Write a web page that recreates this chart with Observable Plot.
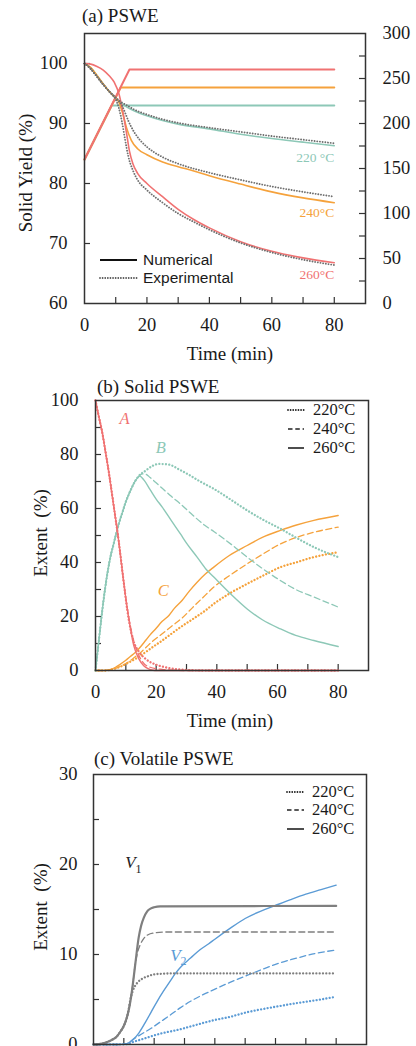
<!DOCTYPE html>
<html><head><meta charset="utf-8">
<script src="https://cdn.jsdelivr.net/npm/d3@7"></script>
<script src="https://cdn.jsdelivr.net/npm/@observablehq/plot@0.6"></script>
<style>
html,body{margin:0;padding:0;background:#fff;overflow:hidden;}
#root{position:relative;width:416px;height:1046px;overflow:hidden;font-family:"Liberation Serif","Times New Roman",serif;color:#1a1a1a;}
.abs{position:absolute;white-space:nowrap;line-height:1;}
.panel{position:absolute;left:0;}
.panel text{font-family:"Liberation Serif","Times New Roman",serif;}
</style></head><body><div id="root"></div><script>
// ---------- Panel (a) data: solid yield (%) vs time (min) ----------
const yieldNum220 = [[0,100],[2,99.3],[4,98],[6,96.6],[8,95.3],[10,94.2],[12,93.3],[14,92.6],[16,92.1],[20,91.3],[25,90.5],[30,89.9],[40,89.1],[50,88.2],[60,87.5],[70,86.9],[80,86.3]];
const yieldExp220 = [[0,100],[2,99.1],[4,97.8],[6,96.5],[8,95.3],[10,94.3],[12,93.5],[14,92.9],[16,92.3],[20,91.5],[25,90.7],[30,90.1],[40,89.3],[50,88.6],[60,87.9],[70,87.3],[80,86.7]];
const yieldNum240 = [[0,100],[2,99.3],[4,98],[6,96.6],[8,95.3],[10,94.2],[11,93.6],[11.8,92.4],[12.6,91],[13.4,89.4],[15,87.2],[17,85.8],[20,84.8],[25,83.6],[30,82.8],[35,82.1],[40,81.3],[50,79.9],[60,78.6],[70,77.6],[80,76.8]];
const yieldExp240 = [[0,100],[2,99.1],[4,97.8],[6,96.5],[8,95.3],[10,94.3],[11,93.7],[12,93],[13,91.8],[14,90.5],[16,88.5],[18,87.1],[20,86.1],[25,84.4],[30,83.3],[40,81.8],[50,80.6],[60,79.5],[70,78.6],[80,77.8]];
const yieldNum260 = [[0,100],[2,99.9],[4,99.5],[6,98.9],[8,97.9],[9.6,96.8],[11,95],[12.3,91.9],[13.4,88.6],[14.4,85.4],[15.5,83.3],[17,81.7],[20,80],[25,77.8],[30,75.7],[35,74],[40,72.6],[50,70.3],[60,68.7],[70,67.6],[80,66.8]];
const yieldExp260 = [[0,100],[2,99.1],[4,97.8],[6,96.5],[8,95.3],[10,94],[11,92.6],[12,90.3],[13,87.3],[14,84.6],[15.5,82.2],[17,80.6],[20,78.9],[25,76.8],[30,75],[35,73.6],[40,72.3],[50,70.1],[60,68.5],[70,67.3],[80,66.4]];
// temperature (°C, right axis)
const temp220 = [[0,160],[8.7,220],[80,220]];
const temp240 = [[0,160],[11.6,240],[80,240]];
const temp260 = [[0,160],[14.4,260],[80,260]];
const tempLabelsA = [{t:80,v:84.3,label:"220 °C",k:"220"},{t:80,v:75.1,label:"240°C",k:"240"},{t:80,v:64.8,label:"260°C",k:"260"}];
const xLabelTicks = [0,20,40,60,80];
const xMinorTicks = [10,20,30,40,50,60,70,80];
const yTicksA = [60,70,80,90,100];
const yMinorA = [70,80,90,100];
const rightTicksA = [0,50,100,150,200,250,300];
const rightMinorA = [25,50,75,100,125,150,175,200,225,250,275];

// ---------- Panel (b) data: solid extents (%) ----------
const A260 = [[0,100],[1,94.5],[2.2,88.3],[3.3,81],[4.4,73.4],[6,61],[7.7,47.5],[9.3,32.7],[11,19.1],[12.6,9.3],[14.3,4.3],[15.9,1.8],[17.5,0.6],[19,0.1],[20,0],[80,0]];
const A240 = [[0,100],[1,94.5],[2.2,88.3],[3.3,81],[4.4,73.4],[6,61],[7.7,47.5],[9.3,32.7],[11,19.5],[12.6,11],[13.5,7.8],[15.4,3.4],[18,1.2],[22,0.4],[26,0.1],[30,0],[80,0]];
const A220 = [[0,100],[1,94.5],[2.2,88.3],[3.3,81],[4.4,73.4],[6,61],[7.7,47.5],[9.3,32.7],[10.4,23],[11.5,15.6],[12.6,10.7],[14.3,7],[16.5,4.3],[19.2,2.5],[23,1.2],[27.5,0.4],[32,0.1],[36,0],[80,0]];
const B260 = [[0,0],[1,10],[2,20],[3,29],[4,36.5],[5,42.5],[6,47],[7,51.5],[8,55.5],[9,59],[10,62.5],[11,65.3],[12,67.8],[13,70],[14,71.5],[14.6,72],[16,70.5],[18,67],[20,63.5],[22,60.5],[25,55.5],[28,50.6],[30,47.2],[33.5,42],[36.3,37.7],[39,34.6],[44.5,28.4],[50,22.8],[55,18.8],[61,15.4],[66,13],[72,11.1],[80,8.9]];
const B240 = [[0,0],[1,10],[2,20],[3,29],[4,36.5],[5,42.5],[6,47],[7,51.5],[8,55.5],[9,59],[10,62.5],[11,65.3],[12,67.8],[13,70],[14,71.6],[15.4,72.8],[16.5,72.7],[18,71.5],[19.8,69.7],[22,67.5],[25,64.5],[28,61.7],[32,57.6],[36,53.8],[39,51.5],[45,46.5],[50,42],[55,37.8],[61,33.3],[66,30],[72,27.2],[80,23.5]];
const B220 = [[0,0],[1,10],[2,20],[3,29],[4,36.5],[5,42.5],[6,47],[7,51.5],[8,55.5],[9,59],[10,62.5],[11,65.3],[12,67.8],[13,70],[14,71.7],[16.5,74],[18.5,75.6],[20.9,76.5],[24,76.3],[28,74.2],[30,73],[35,69.7],[39,67.3],[45,63],[50,59.3],[55,56],[61,52.5],[66,49.3],[72,45.7],[80,42]];
const C260 = [[0,0],[3,0],[5,0.4],[6.6,1.2],[8,2.2],[9.9,3.7],[11.5,5.2],[13.2,6.8],[15,9],[16.5,11.1],[18,13.2],[19.8,15.4],[22,18.2],[24.2,20.4],[26,23],[28.6,26],[31,29.5],[33.5,32.7],[36.3,35.8],[39,38.3],[44,42.5],[50,46.3],[55,49.3],[61,51.9],[66,53.8],[72,55.6],[80,57.4]];
const C240 = [[0,0],[3,0],[5,0.3],[7,1],[9,2],[11,3.3],[13,5],[14.5,6.3],[16.5,8.4],[19,11],[22,13.6],[25,16.3],[28.6,19.5],[32,23.3],[36.3,28],[39,30.9],[44,35],[50,39.5],[55,43],[61,46.9],[66,49.2],[72,51.2],[80,53.1]];
const C220 = [[0,0],[3,0],[5,0.3],[7,0.9],[9,1.8],[11,3],[13,4.2],[14.5,5.2],[16.5,6.8],[19,8.8],[22,11.1],[25,13.6],[28.6,16.5],[32,19],[36.3,22.3],[39,24.7],[44,28.4],[50,32.1],[55,35],[61,38.3],[66,40],[72,42],[80,43.8]];
const labelsB = [{t:9.6,v:93.3,label:"A",k:"A"},{t:21.5,v:82.4,label:"B",k:"B"},{t:22.3,v:29.6,label:"C",k:"C"}];
const yTicksB = [0,20,40,60,80,100];
const yMinorB = [10,20,30,40,50,60,70,80,90];

// ---------- Panel (c) data: volatile extents (%) ----------
const V1_260 = [[0,0],[2,0.05],[4.4,0.26],[6,0.5],[7.7,0.9],[9,1.5],[9.9,2],[11,3],[11.6,3.8],[12.7,6],[13.8,9],[14.9,11.9],[15.7,13.2],[16.6,14.1],[17.7,14.8],[18.8,15.1],[20,15.25],[22,15.35],[80,15.4]];
const V1_240 = [[0,0],[2,0.05],[4.4,0.26],[6,0.5],[7.7,0.9],[9,1.5],[9.9,2],[11,3],[11.6,3.8],[12.7,6],[13.8,9],[14.5,10.2],[15.3,11],[16.6,11.8],[18,12.2],[20,12.4],[24,12.5],[80,12.5]];
const V1_220 = [[0,0],[2,0.05],[4.4,0.26],[6,0.5],[7.7,0.9],[9,1.5],[9.9,2],[11,3],[11.6,3.9],[12.1,4.9],[13,6],[14.3,6.8],[16,7.3],[17.7,7.55],[20,7.8],[22,7.85],[26,7.9],[80,7.9]];
const V2_260 = [[0,0],[8,0],[11,0.1],[13.2,0.6],[15,1.3],[17,2.4],[19,3.6],[21,4.8],[23,5.9],[25,6.9],[27,7.9],[29,8.7],[32,9.6],[35,10.5],[38,11.2],[40,11.7],[45,12.9],[50,14],[55,14.8],[59.6,15.4],[65,16.1],[70,16.7],[75,17.2],[80,17.7]];
const V2_240 = [[0,0],[8,0],[11,0.1],[13.2,0.6],[16,1.2],[19,1.8],[22,2.5],[25,3.2],[28.7,4.1],[32,4.8],[35.3,5.4],[39.7,6.1],[45,6.9],[50.8,7.7],[56,8.4],[61.8,9.1],[67,9.6],[72.9,10.1],[80,10.5]];
const V2_220 = [[0,0],[8,0],[11,0.05],[13.2,0.3],[16.6,0.65],[22,1.2],[28.7,1.7],[33,2.1],[39.7,2.7],[45.3,3.1],[50.8,3.6],[56,3.95],[61.8,4.3],[67,4.6],[72.9,4.9],[80,5.3]];
const labelsC = [{t:12.2,v:20.2,name:"V",sub:"1",k:"V1"},{t:27,v:9.9,name:"V",sub:"2",k:"V2"}];
const yTicksC = [0,10,20,30];
const yMinorC = [5,10,15,20,25];
const legendTemps = ["220°C","240°C","260°C"];
const legendA = ["Numerical","Experimental"];

// ---------- styles ----------
const RED="#F07272", ORANGE="#F5A23C", TEAL="#8DC8B7", BLUE="#5B9BD5", GRAY="#7F7F7F", DOT="#707070", INK="#333333";
const SERIF = '"Liberation Serif", "Times New Roman", serif';
const DOTTED = {strokeDasharray:"0.01,3.3", strokeLinecap:"round", strokeWidth:2.3};
const DASHED = {strokeDasharray:"6,3.5", strokeWidth:1.3};
const SOLID = {strokeWidth:1.4};
const DOTA = {strokeDasharray:"0.01,2.7", strokeLinecap:"round", strokeWidth:1.9};
const root = document.getElementById("root");

function line(pairs, opts, yf) {
  return Plot.line(pairs, {x: d => d[0], y: yf ? d => yf(d[1]) : d => d[1], curve: "monotone-x", ...opts});
}
function baseAxes(W, H, mL, mR, mT, mB, yTicks, yMinor, padL, xLabels = true) {
  const iw = W - mL - mR, ih = H - mT - mB;
  const m = [
    Plot.axisY({ticks: yTicks, tickSize: 0, tickPadding: padL, label: null, tickFormat: d => d}),
    Plot.ruleX(xMinorTicks, {x: d => d, insetTop: ih - 6, stroke: INK, strokeWidth: 1.2}),
    Plot.ruleY(yMinor, {y: d => d, insetRight: iw - 6, stroke: INK, strokeWidth: 1.2})
  ];
  if (xLabels) m.push(Plot.axisX({ticks: xLabelTicks, tickSize: 0, tickPadding: 14, label: null, tickFormat: d => d}));
  else m.push(Plot.axisX({ticks: [], label: null}));
  return m;
}
function addDiv(html, css) {
  const d = document.createElement("div");
  d.className = "abs";
  d.innerHTML = html;
  Object.assign(d.style, css);
  root.appendChild(d);
  return d;
}
function place(el, top) {
  el.classList.add("panel");
  el.style.top = top + "px";
  root.appendChild(el);
}
function legendSample(kind, x1, x2, y, color, w) {
  let attrs;
  if (kind === "dotted") attrs = `stroke-width="1.8" stroke-dasharray="0.01,2.6" stroke-linecap="round"`;
  else if (kind === "dashed") attrs = `stroke-width="1.4" stroke-dasharray="4.5,2.8"`;
  else attrs = `stroke-width="${w || 1.6}"`;
  addDiv(`<svg width="${x2 - x1}" height="6" style="display:block"><line x1="1" y1="3" x2="${x2 - x1 - 1}" y2="3" stroke="${color}" ${attrs}/></svg>`,
    {left: x1 + "px", top: (y - 3) + "px"});
}

// ================= Panel (a) =================
const yMap = T => 60 + T * 45 / 300;
const WA = 416, HA = 365, mLA = 84, mRA = 51, mTA = 33, mBA = 62;
const colorsT = {"220": TEAL, "240": ORANGE, "260": RED};
const plotA = Plot.plot({
  width: WA, height: HA, marginLeft: mLA, marginRight: mRA, marginTop: mTA, marginBottom: mBA,
  style: {fontFamily: SERIF, fontSize: "18.5px", color: "#1a1a1a", background: "transparent"},
  x: {domain: [0, 90]},
  y: {domain: [60, 105]},
  marks: [
    ...baseAxes(WA, HA, mLA, mRA, mTA, mBA, yTicksA, yMinorA, 17),
    Plot.axisY({anchor: "right", ticks: rightTicksA.map(yMap), tickFormat: d => Math.round((d - 60) * 300 / 45), tickSize: 0, tickPadding: 17, textAnchor: "start", label: null}),
    Plot.ruleY(rightMinorA.map(yMap), {y: d => d, insetLeft: (WA - mLA - mRA) - 6, stroke: INK, strokeWidth: 1.2}),
    Plot.line(temp220, {x: d => d[0], y: d => yMap(d[1]), stroke: TEAL, strokeWidth: 2}),
    Plot.line(temp240, {x: d => d[0], y: d => yMap(d[1]), stroke: ORANGE, strokeWidth: 2}),
    Plot.line(temp260, {x: d => d[0], y: d => yMap(d[1]), stroke: RED, strokeWidth: 2}),
    line(yieldNum220, {stroke: TEAL, strokeWidth: 1.6}),
    line(yieldNum240, {stroke: ORANGE, strokeWidth: 1.6}),
    line(yieldNum260, {stroke: RED, strokeWidth: 1.6}),
    line(yieldExp220, {stroke: DOT, ...DOTA}),
    line(yieldExp240, {stroke: DOT, ...DOTA}),
    line(yieldExp260, {stroke: DOT, ...DOTA}),
    Plot.text(tempLabelsA, {x: "t", y: "v", text: "label", fill: d => colorsT[d.k], textAnchor: "end", fontSize: 13.5}),
    Plot.frame({stroke: INK, strokeWidth: 1.5})
  ]
});
place(plotA, 0);
addDiv("(a) PSWE", {left: "82px", top: "6px", fontSize: "19px"});
addDiv("Solid Yield (%)", {left: "25px", top: "173px", fontSize: "19px", transform: "translate(-50%,-50%) rotate(-90deg)"});
addDiv("Time (min)", {left: "230px", top: "353px", fontSize: "19px", transform: "translate(-50%,-50%)"});
legendSample("solid", 99, 138, 260, "#111", 2);
legendSample("dotted", 99, 138, 278, "#555");
addDiv(legendA[0], {left: "143px", top: "260px", fontSize: "15.5px", fontFamily: '"Liberation Sans", Arial, sans-serif', transform: "translateY(-50%)"});
addDiv(legendA[1], {left: "143px", top: "278px", fontSize: "15.5px", fontFamily: '"Liberation Sans", Arial, sans-serif', transform: "translateY(-50%)"});

// ================= Panel (b) =================
const WB = 416, HB = 370, mLB = 95, mRB = 48, mTB = 30, mBB = 70;
const colorsB = {A: RED, B: TEAL, C: ORANGE};
const plotB = Plot.plot({
  width: WB, height: HB, marginLeft: mLB, marginRight: mRB, marginTop: mTB, marginBottom: mBB,
  style: {fontFamily: SERIF, fontSize: "18.5px", color: "#1a1a1a", background: "transparent"},
  x: {domain: [0, 90]},
  y: {domain: [0, 100]},
  marks: [
    ...baseAxes(WB, HB, mLB, mRB, mTB, mBB, yTicksB, yMinorB, 17),
    line(C220, {stroke: ORANGE, ...DOTTED}),
    line(C240, {stroke: ORANGE, ...DASHED}),
    line(C260, {stroke: ORANGE, ...SOLID}),
    line(B220, {stroke: TEAL, ...DOTTED}),
    line(B240, {stroke: TEAL, ...DASHED}),
    line(B260, {stroke: TEAL, ...SOLID}),
    line(A220, {stroke: RED, ...DOTTED}),
    line(A240, {stroke: RED, ...DASHED}),
    line(A260, {stroke: RED, ...SOLID}),
    Plot.text(labelsB, {x: "t", y: "v", text: "label", fill: d => colorsB[d.k], fontStyle: "italic", fontSize: 16.5}),
    Plot.frame({stroke: INK, strokeWidth: 1.5})
  ]
});
place(plotB, 370);
addDiv("(b) Solid PSWE", {left: "97px", top: "377px", fontSize: "19px"});
addDiv("Extent&nbsp;&nbsp;(%)", {left: "40px", top: "533px", fontSize: "19px", transform: "translate(-50%,-50%) rotate(-90deg)"});
addDiv("Time (min)", {left: "230px", top: "720px", fontSize: "19px", transform: "translate(-50%,-50%)"});
["dotted", "dashed", "solid"].forEach((k, i) => {
  const y = [409.5, 429, 448.3][i];
  legendSample(k, 287, 305, y, "#222");
  addDiv(legendTemps[i], {left: "313px", top: y + "px", fontSize: "16.5px", transform: "translateY(-50%)"});
});

// ================= Panel (c) =================
const WC = 416, HC = 306, mLC = 93, mRC = 50, mTC = 34, mBC = 2;
const colorsC = {V1: "#222", V2: BLUE};
const plotC = Plot.plot({
  width: WC, height: HC, marginLeft: mLC, marginRight: mRC, marginTop: mTC, marginBottom: mBC,
  style: {fontFamily: SERIF, fontSize: "18.5px", color: "#1a1a1a", background: "transparent", overflow: "hidden"},
  x: {domain: [0, 90]},
  y: {domain: [0, 30]},
  marks: [
    ...baseAxes(WC, HC, mLC, mRC, mTC, mBC, yTicksC, yMinorC, 16, false),
    line(V2_220, {stroke: BLUE, ...DOTTED}),
    line(V2_240, {stroke: BLUE, ...DASHED}),
    line(V2_260, {stroke: BLUE, ...SOLID}),
    line(V1_220, {stroke: GRAY, ...DOTTED}),
    line(V1_240, {stroke: GRAY, ...DASHED}),
    line(V1_260, {stroke: GRAY, strokeWidth: 2.2}),
    Plot.text(labelsC, {x: "t", y: "v", text: "name", fill: d => colorsC[d.k], fontStyle: "italic", fontSize: 17}),
    Plot.text(labelsC, {x: "t", y: "v", text: "sub", fill: d => colorsC[d.k], dx: 8, dy: 6, fontSize: 12}),
    Plot.frame({stroke: INK, strokeWidth: 1.5})
  ]
});
place(plotC, 740);
addDiv("(c) Volatile PSWE", {left: "94px", top: "749px", fontSize: "19px"});
addDiv("Extent&nbsp;&nbsp;(%)", {left: "40px", top: "907px", fontSize: "19px", transform: "translate(-50%,-50%) rotate(-90deg)"});
["dotted", "dashed", "solid"].forEach((k, i) => {
  const y = [791.7, 810, 829.3][i];
  legendSample(k, 286, 305, y, "#222");
  addDiv(legendTemps[i], {left: "312px", top: y + "px", fontSize: "16.5px", transform: "translateY(-50%)"});
});
</script></body></html>
